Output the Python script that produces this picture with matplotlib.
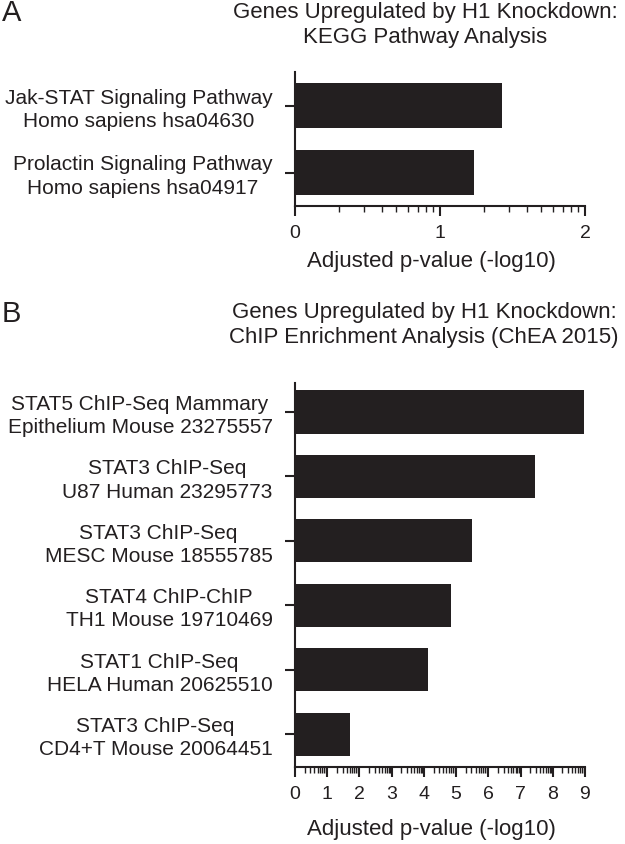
import matplotlib
matplotlib.use('Agg')
import matplotlib.pyplot as plt
import numpy as np

plt.rcParams['font.family'] = ['Liberation Sans', 'DejaVu Sans']

# ---- data ----
kegg_title = "Genes Upregulated by H1 Knockdown:\nKEGG Pathway Analysis"
kegg_labels = ["Jak-STAT Signaling Pathway\nHomo sapiens hsa04630",
               "Prolactin Signaling Pathway\nHomo sapiens hsa04917"]
kegg_values = [1.43, 1.235]
kegg_xticks = [0, 1, 2]

chea_title = "Genes Upregulated by H1 Knockdown:\nChIP Enrichment Analysis (ChEA 2015)"
chea_labels = ["STAT5 ChIP-Seq Mammary\nEpithelium Mouse 23275557",
               "STAT3 ChIP-Seq\nU87 Human 23295773",
               "STAT3 ChIP-Seq\nMESC Mouse 18555785",
               "STAT4 ChIP-ChIP\nTH1 Mouse 19710469",
               "STAT1 ChIP-Seq\nHELA Human 20625510",
               "STAT3 ChIP-Seq\nCD4+T Mouse 20064451"]
chea_values = [8.97, 7.45, 5.5, 4.85, 4.13, 1.71]
chea_xticks = [0, 1, 2, 3, 4, 5, 6, 7, 8, 9]

xlabel = "Adjusted p-value (-log10)"

INK = '#231f20'
W, H = 625, 844

fig = plt.figure(figsize=(W / 100, H / 100), dpi=100)
axA = fig.add_axes([295 / W, 1 - 206 / H, 290 / W, 134 / H])
axB = fig.add_axes([295 / W, 1 - 767 / H, 290 / W, 384 / H])


def style(ax, labels, values, xticks, ylim, label_y):
    y = np.arange(len(values))
    ax.barh(y, values, height=0.67, color=INK, edgecolor='none')
    ax.set_ylim(*ylim)
    ax.set_xlim(xticks[0], xticks[-1])
    ax.set_yticks(y)
    ax.set_yticklabels(labels, fontsize=15, linespacing=1.28,
                       multialignment='center')
    ax.set_xticks(xticks)
    ax.set_xticklabels([str(t) for t in xticks], fontsize=14)
    minors = [n + np.log10(k) for n in xticks[:-1] for k in range(2, 10)]
    ax.set_xticks(minors, minor=True)
    for s in ['top', 'right']:
        ax.spines[s].set_visible(False)
    for s in ['left', 'bottom']:
        ax.spines[s].set_linewidth(1.5)
        ax.spines[s].set_color(INK)
    ax.tick_params(axis='both', which='major', length=7.2, width=1.5,
                   color=INK, direction='out', labelcolor=INK)
    ax.tick_params(axis='x', which='minor', length=4.6, width=1.0,
                   color=INK, direction='out')
    ax.tick_params(axis='y', which='minor', left=False)
    ax.tick_params(axis='y', which='major', pad=9)
    ax.tick_params(axis='x', which='major', pad=6.5)
    ax.set_xlabel(xlabel, fontsize=16, color=INK, va='center')
    ax.xaxis.set_label_coords(0.472, label_y)


style(axA, kegg_labels, kegg_values, kegg_xticks, (1.5, -0.5), (206 - 261) / 134)
style(axB, chea_labels, chea_values, chea_xticks, (5.51, -0.45), (767 - 830) / 384)

fig.text(425 / W, 1 - 25 / H, kegg_title, fontsize=16, ha='center', va='center',
         multialignment='center', linespacing=1.25, color=INK)
fig.text(424 / W, 1 - 325 / H, chea_title, fontsize=16, ha='center', va='center',
         multialignment='center', linespacing=1.25, color=INK)
fig.text(2 / W, 1 - 13 / H, "A", fontsize=21, ha='left', va='center', color=INK)
fig.text(2 / W, 1 - 314 / H, "B", fontsize=21, ha='left', va='center', color=INK)

fig.savefig('out.png', dpi=100)
